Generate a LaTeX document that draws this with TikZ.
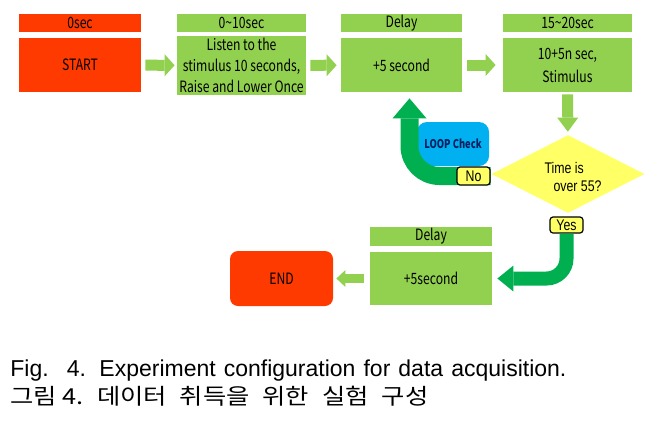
\documentclass[tikz,border=0pt]{standalone}
\usepackage{fontspec}
\usetikzlibrary{arrows.meta,shapes.geometric,backgrounds}
\newfontfamily\boxfont[FakeStretch=0.78]{Noto Sans CJK KR}
\newfontfamily\capfont[FakeStretch=0.8]{Liberation Sans}
\newfontfamily\figfont{Liberation Sans}
\newfontfamily\korfont[FakeStretch=1.15]{Noto Sans CJK KR}
\definecolor{redbox}{RGB}{255,58,0}
\definecolor{lgreen}{RGB}{146,208,80}
\definecolor{dgreen}{RGB}{0,176,80}
\definecolor{loopblue}{RGB}{0,176,240}
\definecolor{navytext}{RGB}{0,32,96}
\definecolor{ylw}{RGB}{255,255,102}
\begin{document}
\begin{tikzpicture}[x=0.5pt,y=-0.5pt,
  box/.style={fill=#1,inner sep=0pt,align=center,font=\boxfont\fontsize{7.8}{10.4}\selectfont},
  hdr/.style={box=#1,minimum height=9pt},
  blk/.style={draw=lgreen,line width=5.5pt,-{Triangle[length=5pt,width=11pt,line width=0pt]}},
  tag/.style={draw,fill=ylw,line width=0.6pt,rounded corners=1.5pt,inner sep=0pt,minimum width=16.5pt,font=\capfont\fontsize{7.7}{9}\selectfont}]
\useasboundingbox (0,0) rectangle (662,425);
% top row
\node[hdr=redbox,minimum width=61pt] (t0) at (80,23) {0sec};
\node[box=redbox,minimum width=61pt,minimum height=27pt] (start) at (80,65) {START};
\node[hdr=lgreen,minimum width=64.5pt] (t1) at (241.5,23) {0\textasciitilde10sec};
\node[box=lgreen,minimum width=64.5pt,minimum height=29.5pt] (listen) at (241.5,65.5) {Listen to the\\stimulus 10 seconds,\\Raise and Lower Once};
\node[hdr=lgreen,minimum width=60.5pt] (t2) at (401.5,23) {Delay};
\node[box=lgreen,minimum width=60.5pt,minimum height=27pt] (delay1) at (401.5,65) {+5 second};
\node[hdr=lgreen,minimum width=64.5pt] (t3) at (567.5,23) {15\textasciitilde20sec};
\node[box=lgreen,minimum width=64.5pt,minimum height=27pt,font=\boxfont\fontsize{7.8}{11.5}\selectfont] (stim) at (567.5,65) {10+5n sec,\\Stimulus};
\draw[blk,shorten <=2pt,shorten >=1pt] (start) -- (listen);
\draw[blk,shorten <=2pt,shorten >=2pt] (listen) -- (delay1);
\draw[blk,shorten <=2.5pt,shorten >=3.5pt] (delay1) -- (stim);
% decision
\node[diamond,fill=ylw,minimum width=76.5pt,minimum height=39pt,inner sep=0pt] (dia) at (568,174) {};
\node[align=left,inner sep=0pt,font=\capfont\fontsize{7.7}{9.3}\selectfont] (diatext) at (573,177) {Time is\\\hspace*{4.5pt}over 55?};
\draw[blk,line width=5.5pt,-{Triangle[length=7pt,width=10.5pt,line width=0pt]},shorten <=1pt,shorten >=1.5pt] (stim) -- (dia);
\node[tag,minimum height=9pt] (no) at (473.5,176) {No};
\node[tag,minimum height=8pt] (yes) at (566.5,225) {Yes};
\begin{scope}[on background layer]
\node[fill=loopblue,rounded corners=5pt,minimum width=36pt,minimum height=22pt,inner sep=0pt,text=navytext,font=\boxfont\bfseries\fontsize{6}{7}\selectfont] (loop) at (453,144) {LOOP Check};
\draw[dgreen,line width=9pt,rounded corners=15pt,-{Triangle[length=10pt,width=17pt,line width=0pt]},shorten >=3pt] (no.east) -| ([xshift=4pt]delay1.south);
\end{scope}
% bottom row
\node[hdr=lgreen,minimum width=61pt,minimum height=9.5pt] (t4) at (431,236.5) {Delay};
\node[box=lgreen,minimum width=61pt,minimum height=26.5pt] (delay2) at (431,278.5) {+5second};
\node[box=redbox,rounded corners=4pt,minimum width=51.5pt,minimum height=27.5pt] (endn) at (281.5,278.5) {END};
\draw[dgreen,line width=7pt,rounded corners=10pt,-{Triangle[length=8pt,width=13pt,line width=0pt]},shorten >=2.5pt] (yes.south) |- (delay2.east);
\draw[blk,line width=4.5pt,-{Triangle[length=4.5pt,width=8.5pt,line width=0pt]},shorten <=3pt,shorten >=1.5pt] (delay2) -- (endn);
% caption
\node[anchor=base west,inner sep=0pt,font=\figfont\fontsize{11.5}{13}\selectfont] (cap1) at (10,376) {\makebox[278pt][s]{Fig.\kern5pt\ 4. Experiment configuration for data acquisition.}};
\node[anchor=base west,inner sep=0pt,font=\korfont\fontsize{11}{13}\selectfont] (cap2) at (10,404) {\frenchspacing\makebox[209pt][s]{그림\kern3pt 4. 데이터 취득을 위한 실험 구성}};
\end{tikzpicture}
\end{document}
